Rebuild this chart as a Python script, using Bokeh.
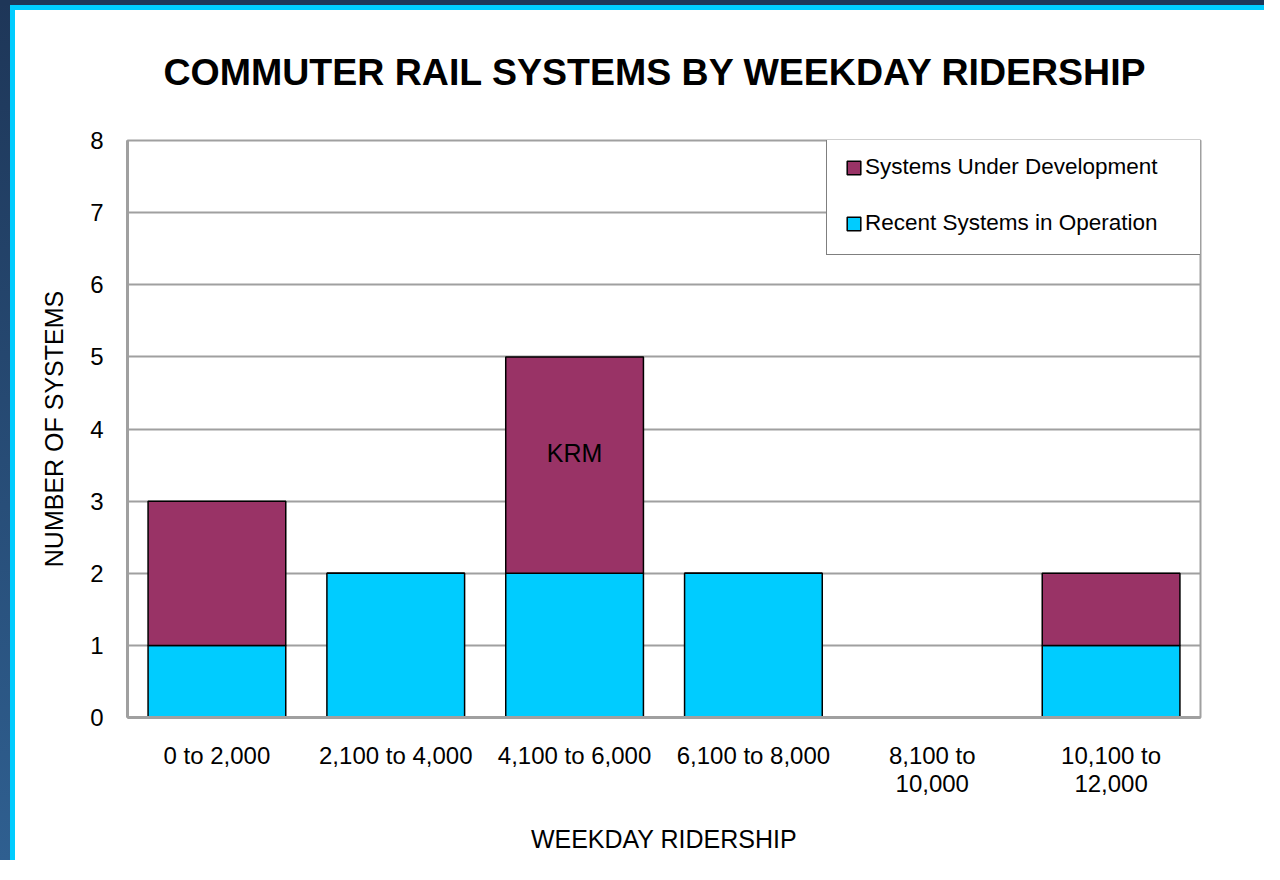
from bokeh.plotting import figure
from bokeh.models import ColumnDataSource, FactorRange, Legend, LegendItem, Title, SingleIntervalTicker
from bokeh.embed import file_html
from bokeh.resources import INLINE
from bokeh.core.properties import value

categories = ["0 to 2,000", "2,100 to 4,000", "4,100 to 6,000", "6,100 to 8,000",
              "8,100 to\n10,000", "10,100 to\n12,000"]
recent = [1, 2, 2, 2, 0, 1]
under_dev = [2, 0, 3, 0, 0, 1]
series_names = ["Recent Systems in Operation", "Systems Under Development"]
annotation_text = ["KRM"]
annotation_category = ["4,100 to 6,000"]
annotation_y = [3.67]

FONT = "Liberation Sans"

src = ColumnDataSource(dict(cat=categories, recent=recent, under_dev=under_dev))
ann = ColumnDataSource(dict(x=annotation_category, y=annotation_y, t=annotation_text))

p = figure(x_range=FactorRange(*categories), y_range=(0, 8),
           width=1264, height=860, output_backend="svg", toolbar_location=None,
           min_border_left=127, min_border_right=64, min_border_top=140, min_border_bottom=143)

p.title = Title(text="COMMUTER RAIL SYSTEMS BY WEEKDAY RIDERSHIP", align="left",
                text_font=FONT, text_font_size="37.5px", text_font_style="bold",
                text_color="black", standoff=96, offset=36)

rs = p.vbar_stack(["recent", "under_dev"], x="cat", width=0.77, source=src,
                  color=["#00CCFF", "#993366"], line_color="black", line_width=1.5)

p.text(x="x", y="y", text="t", source=ann, text_font=value(FONT), text_font_size="25px",
       text_align="center", text_baseline="middle", text_color="black")

legend = Legend(items=[LegendItem(label=series_names[1], renderers=[rs[1]]),
                       LegendItem(label=series_names[0], renderers=[rs[0]])],
                location=(699, 462), padding=18, spacing=30,
                glyph_width=17, glyph_height=17, label_standoff=3, label_width=318,
                label_height=24,
                label_text_font=FONT, label_text_font_size="22.5px", label_text_color="black",
                border_line_color="black", border_line_width=1.2,
                background_fill_color="white", background_fill_alpha=1)
p.add_layout(legend, "center")

p.outline_line_color = "#A0A0A0"
p.outline_line_width = 2
p.xgrid.grid_line_color = None
p.ygrid.grid_line_color = "#A0A0A0"
p.ygrid.grid_line_width = 2
p.ygrid.level = "underlay"

p.yaxis.ticker = SingleIntervalTicker(interval=1)
for ax in (p.xaxis[0], p.yaxis[0]):
    ax.axis_line_color = "#A0A0A0"
    ax.axis_line_width = 3
    ax.major_tick_line_color = None
    ax.minor_tick_line_color = None
    ax.major_tick_out = 0
    ax.major_tick_in = 0
    ax.major_label_text_font = FONT
    ax.major_label_text_font_size = "24px"
    ax.major_label_text_color = "black"
    ax.axis_label_text_font = FONT
    ax.axis_label_text_font_size = "25px"
    ax.axis_label_text_font_style = "normal"
    ax.axis_label_text_color = "black"

p.yaxis.axis_label = "NUMBER OF SYSTEMS"
p.yaxis.major_label_standoff = 20
p.yaxis.axis_label_standoff = 19
p.xaxis.axis_label = "WEEKDAY RIDERSHIP"
p.xaxis.major_label_standoff = 24
p.xaxis.major_label_text_line_height = 1.05
p.xaxis.axis_label_standoff = 25

p.border_fill_color = "white"
p.border_fill_alpha = 0
p.background_fill_color = "white"
p.styles = {
    "background-color": "white",
    "background-image": ("linear-gradient(#1e3658, #1e3658), "
                         "linear-gradient(#00ccff, #00ccff), "
                         "linear-gradient(to bottom, #1e3658, #2f5f90), "
                         "linear-gradient(#00ccff, #00ccff)"),
    "background-position": "0px 0px, 10px 5px, 0px 0px, 10px 5px",
    "background-size": "1264px 5px, 1254px 5px, 10px 860px, 5px 855px",
    "background-repeat": "no-repeat",
}

open("out.html", "w").write(file_html(p, INLINE))
